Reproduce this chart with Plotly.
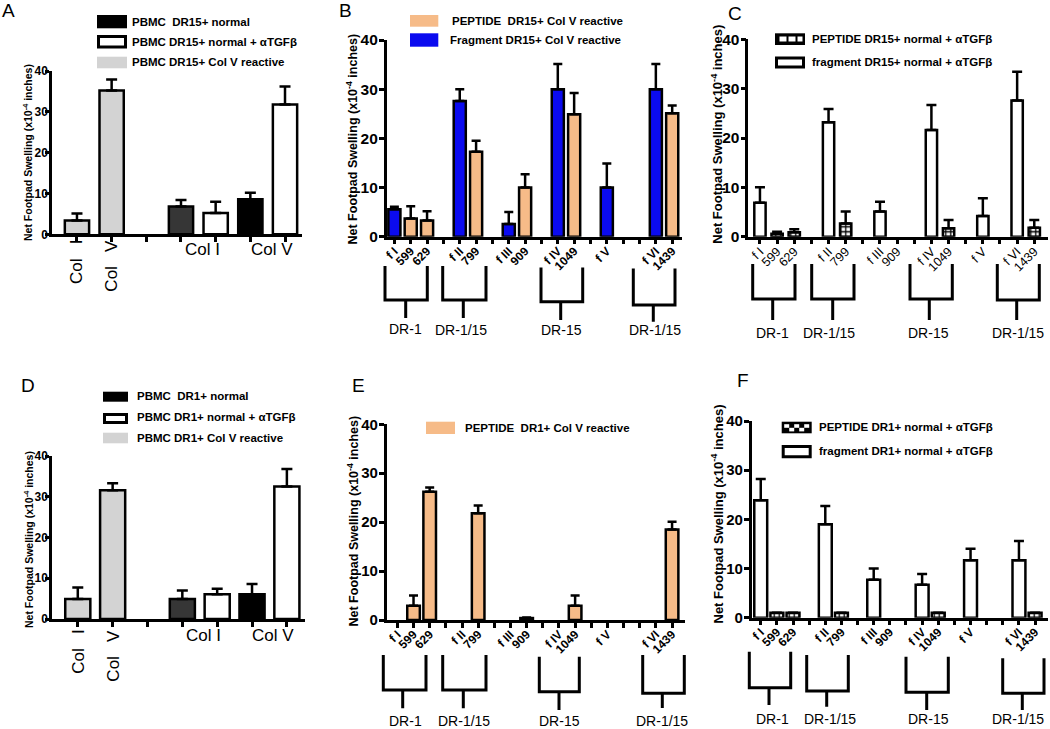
import plotly.graph_objects as go

# ---------------- data ----------------
antigens = ["Col I", "Col V"]

A_reactive = [3.4, 35.2]
A_reactive_err = [1.7, 2.7]
A_normal = [6.8, 8.6]
A_normal_err = [1.6, 1.6]
A_anti = [5.2, 31.8]
A_anti_err = [2.8, 4.4]

D_reactive = [4.9, 31.6]
D_reactive_err = [2.8, 1.7]
D_normal = [4.9, 6.1]
D_normal_err = [2.1, 2.5]
D_anti = [6.1, 32.5]
D_anti_err = [1.3, 4.3]

AD_slots = ["reactive Col I", "reactive Col V", "", "normal Col I", "anti Col I", "normal Col V", "anti Col V"]

slots_BEF = ["f I", "599", "629", "", "f II", "799", "", "f III", "909", "", "f IV", "1049", "",
             "f V", "", "", "f VI", "1439"]
slots_C = ["f I", "599", "629", "", "f II", "799", "", "f III", "909", "", "f IV", "1049", "",
           "f V", "", "f VI", "1439"]

fragments = ["f I", "f II", "f III", "f IV", "f V", "f VI"]
peptides = ["599", "629", "799", "909", "1049", "1439"]

B_fragment = [5.6, 27.6, 2.6, 30.0, 10.0, 30.0]
B_fragment_err = [0.5, 2.4, 2.4, 5.1, 4.9, 5.1]
B_peptide = [3.7, 3.3, 17.3, 10.0, 24.9, 25.1]
B_peptide_err = [2.5, 1.9, 2.2, 2.7, 4.3, 1.6]

C_fragment = [6.9, 23.2, 5.1, 21.6, 4.2, 27.6]
C_fragment_err = [3.1, 2.7, 2.0, 5.1, 3.6, 5.8]
C_peptide = [0.6, 0.9, 2.7, None, 1.7, 1.8]
C_peptide_err = [0.4, 0.6, 2.4, None, 1.7, 1.6]

E_peptide = [2.9, 26.2, 21.8, 0.4, 2.9, 18.5]
E_peptide_err = [2.1, 0.9, 1.6, 0.1, 2.1, 1.6]

F_fragment = [23.9, 19.0, 7.7, 6.7, 11.7, 11.7]
F_fragment_err = [4.3, 3.7, 2.3, 2.2, 2.3, 3.9]
F_peptide = [1.0, 1.0, 1.0, None, 1.0, 1.0]
F_peptide_err = [0.0, 0.0, 0.0, None, 0.0, 0.0]

DR_groups = ["DR-1", "DR-1/15", "DR-15", "DR-1/15"]
y_ticks = [0, 10, 20, 30, 40]
y_title = "Net Footpad Swelling (x10<sup>-4</sup> inches)"

# ---------------- helpers ----------------
W, H = 1050, 729
FONT = "Arial, Liberation Sans, sans-serif"


def PX(x):
    return x / W


def PY(y):
    return 1 - y / H


fig = go.Figure()
annotations = []
shapes = []


def ax_names(i):
    return ("x" if i == 1 else f"x{i}"), ("y" if i == 1 else f"y{i}")


def setup_axes(i, left, right, top, bottom, xrange, slots, show_xlabels,
               xfont_size=11, xbold=True, yfont_size=15, yticklen=5, ystandoff=-2):
    xn, yn = ax_names(i)
    labelled = [k for k, s in enumerate(slots) if s] if show_xlabels else []
    xa = dict(domain=[PX(left), PX(right)], range=xrange, anchor=yn,
              showline=True, linewidth=2.5, linecolor="black", ticks="",
              tickmode="array", tickvals=labelled, ticktext=[slots[k] for k in labelled],
              showgrid=False, zeroline=False, tickangle=-45,
              tickfont=dict(family=FONT, size=xfont_size, color="black",
                            weight="bold" if xbold else "normal"),
              minor=dict(tickmode="array", tickvals=list(range(len(slots))), ticks="outside",
                         ticklen=5, tickwidth=2.5, tickcolor="black", showgrid=False),
              fixedrange=True)
    ya = dict(domain=[PY(bottom), PY(top)], range=[0, 40], anchor=xn,
              showline=True, linewidth=2.5, linecolor="black", ticks="outside",
              ticklen=yticklen, tickwidth=2.5, tickcolor="black", tickmode="array",
              tickvals=y_ticks, showgrid=False, zeroline=False, ticklabelstandoff=ystandoff,
              tickfont=dict(family=FONT, size=yfont_size, color="black", weight="bold"),
              fixedrange=True)
    key = "" if i == 1 else str(i)
    fig.update_layout(**{f"xaxis{key}": xa, f"yaxis{key}": ya})


def add_bars(i, slots, labels, vals, errs, width, color, capw=5, pattern=None, key_fmt="{}"):
    xn, yn = ax_names(i)
    xs, ys, es = [], [], []
    for lab, v, e in zip(labels, vals, errs):
        if v is None:
            continue
        xs.append(slots.index(key_fmt.format(lab)))
        ys.append(v)
        es.append(e)
    marker = dict(color=color, line=dict(color="black", width=2.5))
    if pattern is not None:
        marker["pattern"] = pattern
    fig.add_trace(go.Bar(
        x=xs, y=ys, width=width, marker=marker, xaxis=xn, yaxis=yn, showlegend=False,
        error_y=dict(type="data", symmetric=False, array=es, arrayminus=[0] * len(es),
                     color="black", thickness=2.5, width=capw)))


def text(x, y, s, size=11.5, bold=True, xanchor="left", yanchor="middle", angle=0,
         xref="paper", xshift=0):
    annotations.append(dict(
        x=x if xref != "paper" else PX(x), y=PY(y), xref=xref, yref="paper", text=s,
        showarrow=False, xanchor=xanchor, yanchor=yanchor, textangle=angle, xshift=xshift,
        font=dict(family=FONT, size=size, color="black", weight="bold" if bold else "normal")))


def rect(x0, y0, x1, y1, fill, line_w=0):
    shapes.append(dict(type="rect", xref="paper", yref="paper",
                       x0=PX(x0), x1=PX(x1), y0=PY(y1), y1=PY(y0),
                       fillcolor=fill, line=dict(color="black", width=line_w)))


def bracket(left, right, top, bottom, stem_x, stem_bottom):
    p = (f"M {PX(left)},{PY(top)} L {PX(left)},{PY(bottom)} L {PX(right)},{PY(bottom)} "
         f"L {PX(right)},{PY(top)} M {PX(stem_x)},{PY(bottom)} L {PX(stem_x)},{PY(stem_bottom)}")
    shapes.append(dict(type="path", xref="paper", yref="paper", path=p,
                       line=dict(color="black", width=3)))


GRAY = "#d3d3d3"
DARK = "#363636"
BLUE = "#0b0bef"
PEACH = "#f6bb88"
PAT = dict(shape="+", fgcolor="black", bgcolor="white", size=5, solidity=0.45)

# ---------------- Panel A ----------------
setup_axes(1, 52, 302, 71, 234.3, [-0.72, 6.49], AD_slots, False, yfont_size=12, yticklen=4,
           ystandoff=-5)
add_bars(1, AD_slots, antigens, A_reactive, A_reactive_err, 0.7, GRAY, 5.5, key_fmt="reactive {}")
add_bars(1, AD_slots, antigens, A_normal, A_normal_err, 0.7, [DARK, "black"], 5.5, key_fmt="normal {}")
add_bars(1, AD_slots, antigens, A_anti, A_anti_err, 0.7, "white", 5.5, key_fmt="anti {}")

# ---------------- Panel D ----------------
setup_axes(4, 52, 305, 456, 619, [-0.74, 6.52], AD_slots, False, yfont_size=12, yticklen=4,
           ystandoff=-5)
add_bars(4, AD_slots, antigens, D_reactive, D_reactive_err, 0.72, GRAY, 5.5, key_fmt="reactive {}")
add_bars(4, AD_slots, antigens, D_normal, D_normal_err, 0.72, [DARK, "black"], 5.5, key_fmt="normal {}")
add_bars(4, AD_slots, antigens, D_anti, D_anti_err, 0.72, "white", 5.5, key_fmt="anti {}")

# x labels for A and D
for i, top_rot, y_h in [(1, 238, 249), (4, 628, 635)]:
    xn, _ = ax_names(i)
    for ag in antigens:
        text(AD_slots.index(f"reactive {ag}"), top_rot, ag.replace(" ", "\u00a0\u00a0\u00a0"),
             size=17, bold=False, xanchor="center", yanchor="top", angle=-90, xref=xn)
        mid = (AD_slots.index(f"normal {ag}") + AD_slots.index(f"anti {ag}")) / 2
        text(mid, y_h, ag, size=17, bold=False, xanchor="center", yanchor="middle",
             xref=xn, xshift=4)

# ---------------- Panel B ----------------
setup_axes(2, 386.7, 682, 40, 236.7, [-0.47, 17.6], slots_BEF, True, xfont_size=12, yfont_size=15.5)
add_bars(2, slots_BEF, fragments, B_fragment, B_fragment_err, 0.74, BLUE, 4.5)
add_bars(2, slots_BEF, peptides, B_peptide, B_peptide_err, 0.74, PEACH, 4.5)

# ---------------- Panel C ----------------
setup_axes(3, 748.3, 1048, 39.3, 236.7, [-0.68, 16.8], slots_C, True,
           xfont_size=12.5, xbold=False, yfont_size=15.5)
add_bars(3, slots_C, fragments, C_fragment, C_fragment_err, 0.66, "white", 5)
add_bars(3, slots_C, peptides, C_peptide, C_peptide_err, 0.66, "white", 5, pattern=PAT)

# ---------------- Panel E ----------------
setup_axes(5, 386.7, 685, 424.3, 620, [-0.66, 17.8], slots_BEF, True, xfont_size=12, yfont_size=15)
add_bars(5, slots_BEF, peptides, E_peptide, E_peptide_err, 0.78, PEACH, 4.5)

# ---------------- Panel F ----------------
setup_axes(6, 751.7, 1048, 421, 617.7, [-0.56, 17.8], slots_BEF, True, xfont_size=12, yfont_size=15)
add_bars(6, slots_BEF, fragments, F_fragment, F_fragment_err, 0.8, "white", 5)
add_bars(6, slots_BEF, peptides, F_peptide, F_peptide_err, 0.8, "white", 5, pattern=PAT)

# ---------------- y titles ----------------
for x, y, s in [(27, 153, 10.5), (352, 139.5, 12.5), (716.7, 134, 13),
                (28, 540, 10.5), (352, 521.5, 12.5), (717, 514.5, 13)]:
    text(x, y, y_title, size=s, bold=True, xanchor="center", yanchor="middle", angle=-90)

# ---------------- panel letters ----------------
for x, y, s in [(8, 11, "A"), (345, 10, "B"), (735, 14, "C"),
                (28, 385, "D"), (358, 385, "E"), (743, 380, "F")]:
    text(x, y, s, size=19, bold=False, xanchor="center", yanchor="middle")

# ---------------- custom legends ----------------
# A
rect(97, 15, 127, 28.3, "black")
rect(98.5, 36.5, 125.5, 47, "white", 3)
rect(97, 56.7, 127, 68.3, GRAY)
text(130, 21.7, "PBMC  DR15+ normal")
text(130, 41.7, "PBMC DR15+ normal + αTGFβ")
text(130, 62.5, "PBMC DR15+ Col V reactive")
# D
rect(103, 391.7, 128, 401.7, "black")
rect(104.5, 414.5, 126.5, 422.5, "white", 3)
rect(103, 432.7, 128, 443.3, GRAY)
text(135, 396, "PBMC  DR1+ normal")
text(135, 417, "PBMC DR1+ normal + αTGFβ")
text(135, 438, "PBMC DR1+ Col V reactive")
# B
rect(410, 15, 438.3, 26.7, PEACH)
rect(410, 33.3, 438.3, 46.7, BLUE)
text(450, 21, "PEPTIDE  DR15+ Col V reactive")
text(448.3, 40, "Fragment DR15+ Col V reactive")
# C
rect(775, 33.3, 805, 45, "black")
for a, b in [(779.5, 786.5), (788.5, 795.5), (797.5, 802.5)]:
    rect(a, 36.5, b, 41.5, "white")
rect(776.5, 58, 803.5, 67, "white", 3)
text(810, 39, "PEPTIDE DR15+ normal + αTGFβ")
text(810, 62, "fragment DR15+ normal + αTGFβ")
# E
rect(426, 421.7, 455, 434, PEACH)
text(462.7, 428, "PEPTIDE  DR1+ Col V reactive")
# F
rect(781.7, 421.7, 811.7, 433.3, "black")
cw = (809.2 - 784.2) / 5
for r, cols in [(0, [0, 2, 4]), (1, [1, 3])]:
    for c in cols:
        rect(784.2 + c * cw, 424.2 + r * 3.6, 784.2 + (c + 1) * cw, 424.2 + (r + 1) * 3.6, "white")
rect(783.2, 446.5, 810.2, 456.8, "white", 3)
text(816.7, 427, "PEPTIDE DR1+ normal + αTGFβ")
text(816.7, 451, "fragment DR1+ normal + αTGFβ")

# ---------------- HLA brackets ----------------
bracket_geom = {
    "B": [(385, 427.3, 266, 300, 405.7, 318, 405, 328.5),
          (442.7, 486, 266, 300, 463.3, 318, 460.7, 330),
          (541, 582.7, 267.5, 301.7, 560.7, 320, 561.7, 330),
          (633.3, 675, 268.5, 305, 653.3, 321.7, 655, 330)],
    "C": [(752.7, 795, 264, 299, 772.7, 320, 772.7, 333.3),
          (811.7, 854, 264, 299, 832.7, 320, 829.3, 333.3),
          (910, 952.3, 264, 299, 929.3, 320, 928.3, 333.3),
          (997.3, 1039.3, 264, 300, 1016.7, 320, 1018.3, 333.3)],
    "E": [(383.3, 426, 655, 690, 402.7, 708.3, 405, 720.5),
          (442.7, 486, 655, 690, 463.3, 708.3, 464, 720.5),
          (539.3, 579.3, 656.7, 691.7, 559, 710, 559.3, 720.5),
          (642.7, 684.3, 655, 693.3, 662.3, 708, 662.3, 720.5)],
    "F": [(749.3, 790.7, 651.7, 687.7, 769, 705, 772, 719),
          (806.7, 848.3, 655, 691, 826.7, 706.7, 830, 719),
          (906, 948.3, 656.7, 692.3, 926.7, 710, 928, 719),
          (1002.7, 1044, 658.3, 693.3, 1022.3, 710, 1018, 719)],
}
for geoms in bracket_geom.values():
    for g, label in zip(geoms, DR_groups):
        bracket(*g[:6])
        text(g[6], g[7], label, size=14, bold=False, xanchor="center", yanchor="middle")

fig.update_layout(
    width=W, height=H, autosize=False, template="none",
    margin=dict(l=0, r=0, t=0, b=0),
    paper_bgcolor="white", plot_bgcolor="white",
    barmode="overlay", showlegend=False, hovermode=False,
    font=dict(family=FONT, color="black"),
    annotations=annotations, shapes=shapes,
)

fig.write_html("out.html", config={"displayModeBar": False},
               post_script="document.body.style.margin='0';document.body.style.padding='0';"
                           "document.body.style.overflow='hidden';")
